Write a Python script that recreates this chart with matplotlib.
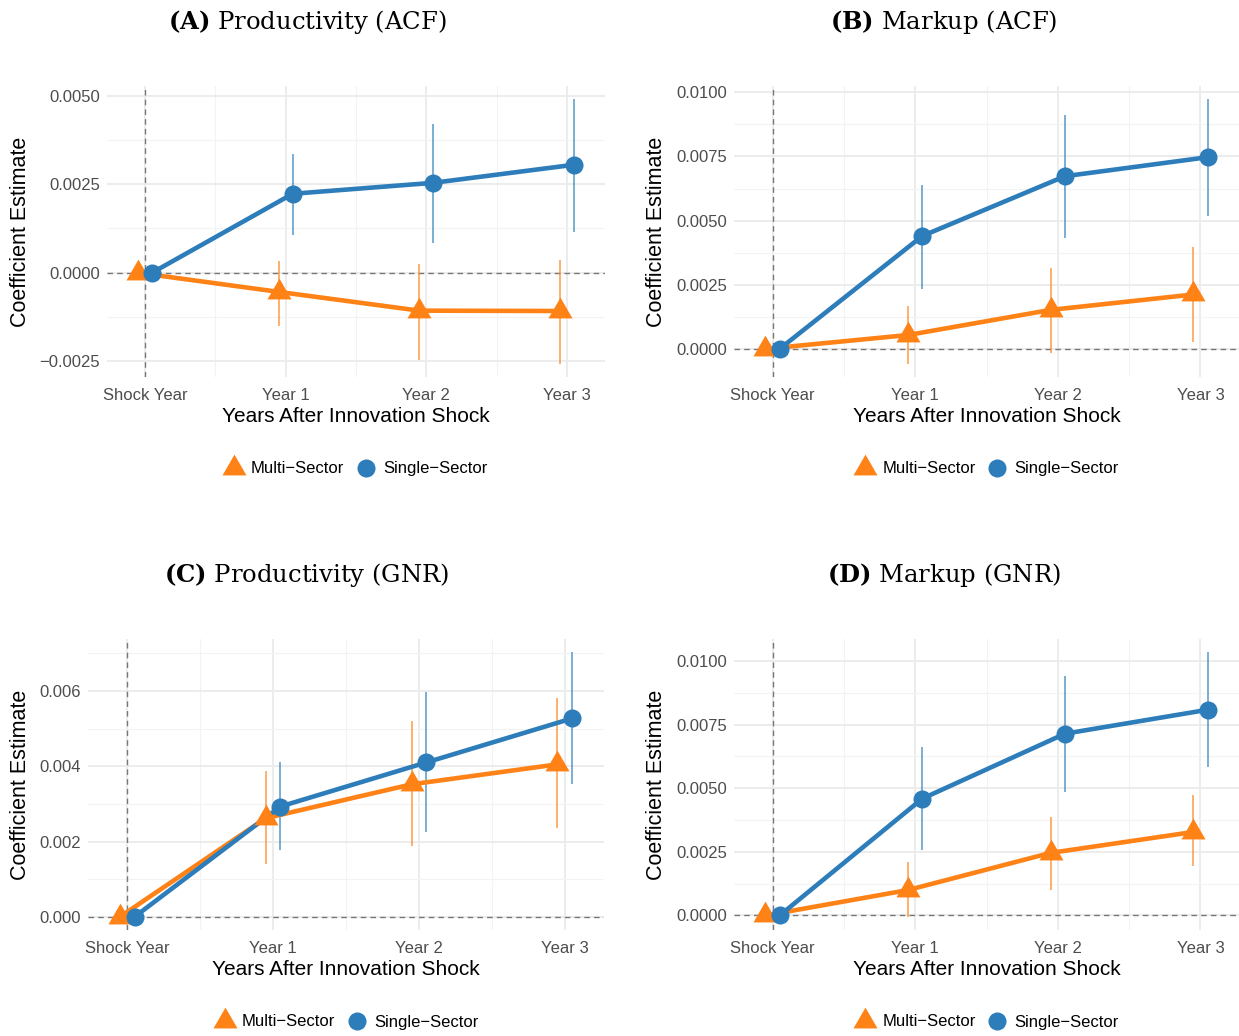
import matplotlib

matplotlib.use("Agg")
import matplotlib.pyplot as plt
from matplotlib.lines import Line2D
from matplotlib.ticker import FixedLocator, FuncFormatter, MultipleLocator

plt.rcParams["font.family"] = ["Liberation Sans", "DejaVu Sans"]
plt.rcParams["mathtext.fontset"] = "custom"
plt.rcParams["mathtext.rm"] = "DejaVu Serif"
plt.rcParams["mathtext.bf"] = "DejaVu Serif:bold"

# 事件期
periods = [0, 1, 2, 3]
period_labels = ["Shock Year", "Year 1", "Year 2", "Year 3"]

# (A) Productivity (ACF)
a_multi = [0.0, -0.00054, -0.00107, -0.00108]
a_multi_lo = [0.0, -0.00149, -0.00245, -0.00257]
a_multi_hi = [0.0, 0.00034, 0.00025, 0.00037]
a_single = [0.0, 0.00223, 0.00254, 0.00305]
a_single_lo = [0.0, 0.00107, 0.00085, 0.00116]
a_single_hi = [0.0, 0.00336, 0.00420, 0.00490]

# (B) Markup (ACF)
b_multi = [0.0, 0.00054, 0.00152, 0.00212]
b_multi_lo = [0.0, -0.00058, -0.00016, 0.00027]
b_multi_hi = [0.0, 0.00167, 0.00315, 0.00397]
b_single = [0.0, 0.00440, 0.00673, 0.00747]
b_single_lo = [0.0, 0.00233, 0.00432, 0.00518]
b_single_hi = [0.0, 0.00638, 0.00910, 0.00973]

# (C) Productivity (GNR)
c_multi = [0.0, 0.00262, 0.00352, 0.00405]
c_multi_lo = [0.0, 0.00140, 0.00187, 0.00237]
c_multi_hi = [0.0, 0.00388, 0.00521, 0.00581]
c_single = [0.0, 0.00293, 0.00410, 0.00527]
c_single_lo = [0.0, 0.00178, 0.00224, 0.00352]
c_single_hi = [0.0, 0.00410, 0.00596, 0.00703]

# (D) Markup (GNR)
d_multi = [0.0, 0.00100, 0.00246, 0.00328]
d_multi_lo = [0.0, -0.00005, 0.00099, 0.00193]
d_multi_hi = [0.0, 0.00209, 0.00385, 0.00474]
d_single = [0.0, 0.00459, 0.00714, 0.00808]
d_single_lo = [0.0, 0.00256, 0.00484, 0.00582]
d_single_hi = [0.0, 0.00661, 0.00939, 0.01034]

ORANGE = "#FF8217"
BLUE = "#2D7DBB"
DODGE = 0.05
W, H = 1239, 1036
# 等边三角形，以重心为中心
TRIANGLE = [(0, 1.155), (-1, -0.577), (1, -0.577)]


def fmt(decimals):
    return FuncFormatter(lambda v, _: f"{v:.{decimals}f}".replace("-", "\u2212"))


def draw_panel(fig, box, ylabel_x, title, title_xy, legend_xy, multi, single,
               yticks, yminor, decimals):
    left, top, right, bottom = box
    ax = fig.add_axes([left / W, 1 - bottom / H, (right - left) / W, (bottom - top) / H])
    for s in ax.spines.values():
        s.set_visible(False)

    ax.axhline(0, color="#777777", lw=1.0, ls=(0, (4, 3)), zorder=2)
    ax.axvline(0, color="#777777", lw=1.0, ls=(0, (4, 3)), zorder=2)

    for (est, lo, hi), color, off, marker, ms in [
        (multi, ORANGE, -DODGE, TRIANGLE, 20),
        (single, BLUE, DODGE, "o", 13),
    ]:
        xs = [p + off for p in periods]
        ax.vlines(xs[1:], lo[1:], hi[1:], color=color, lw=1.1, alpha=0.8, zorder=3)
        ax.plot(xs, est, color=color, lw=3.3, zorder=4, solid_capstyle="butt")
        ax.plot(xs, est, ls="none", marker=marker, ms=ms, color=color,
                markeredgewidth=0, zorder=5)

    ax.set_xlim(-0.27, 3.27)
    ax.xaxis.set_major_locator(FixedLocator(periods))
    ax.set_xticklabels(period_labels)
    ax.xaxis.set_minor_locator(FixedLocator([0.5, 1.5, 2.5]))
    ax.yaxis.set_major_locator(FixedLocator(yticks))
    ax.yaxis.set_minor_locator(MultipleLocator(yminor))
    ax.yaxis.set_major_formatter(fmt(decimals))
    ax.grid(True, which="major", color="#EBEBEB", lw=1.3, zorder=0)
    ax.grid(True, which="minor", color="#F3F3F3", lw=0.8, zorder=0)
    ax.set_axisbelow(True)
    ax.tick_params(which="both", length=0, labelsize=12, labelcolor="#4D4D4D")
    ax.tick_params(axis="x", pad=8)
    ax.tick_params(axis="y", pad=5)

    ax.set_xlabel("Years After Innovation Shock", fontsize=15, color="black", labelpad=3)
    ax.set_ylabel("Coefficient Estimate", fontsize=15.5, color="black")
    # 旋转后的 y 轴标题以右缘对齐
    ax.yaxis.set_label_coords((ylabel_x - left) / (right - left), 0.5)

    letter, rest = title
    fig.text(title_xy[0] / W, 1 - title_xy[1] / H, rf"$\mathbf{{({letter})}}$ {rest}",
             family="DejaVu Serif", fontsize=17.5, ha="center", va="center")

    handles = [
        Line2D([], [], ls="none", marker=TRIANGLE, ms=20, color=ORANGE, markeredgewidth=0),
        Line2D([], [], ls="none", marker="o", ms=13, color=BLUE, markeredgewidth=0),
    ]
    fig.legend(handles, ["Multi\u2212Sector", "Single\u2212Sector"], loc="center",
               bbox_to_anchor=(legend_xy[0] / W, 1 - legend_xy[1] / H), ncol=2,
               frameon=False, fontsize=12, handlelength=1.4, handletextpad=0.3,
               columnspacing=0.6)
    return ax


fig = plt.figure(figsize=(W / 100, H / 100), dpi=100)

draw_panel(fig, (107, 86, 605, 377), 31, ("A", "Productivity (ACF)"), (307, 22), (355, 469),
           (a_multi, a_multi_lo, a_multi_hi), (a_single, a_single_lo, a_single_hi),
           [-0.0025, 0.0, 0.0025, 0.005], 0.00125, 4)
draw_panel(fig, (734, 86, 1239, 377), 667, ("B", "Markup (ACF)"), (944, 22), (986, 469),
           (b_multi, b_multi_lo, b_multi_hi), (b_single, b_single_lo, b_single_hi),
           [0.0, 0.0025, 0.005, 0.0075, 0.01], 0.00125, 4)
draw_panel(fig, (88, 639, 604, 930), 31, ("C", "Productivity (GNR)"), (307, 575), (346, 1022),
           (c_multi, c_multi_lo, c_multi_hi), (c_single, c_single_lo, c_single_hi),
           [0.0, 0.002, 0.004, 0.006], 0.001, 3)
draw_panel(fig, (734, 639, 1239, 930), 667, ("D", "Markup (GNR)"), (944, 575), (986, 1022),
           (d_multi, d_multi_lo, d_multi_hi), (d_single, d_single_lo, d_single_hi),
           [0.0, 0.0025, 0.005, 0.0075, 0.01], 0.00125, 4)

fig.savefig("out.png", dpi=100, facecolor="white")
